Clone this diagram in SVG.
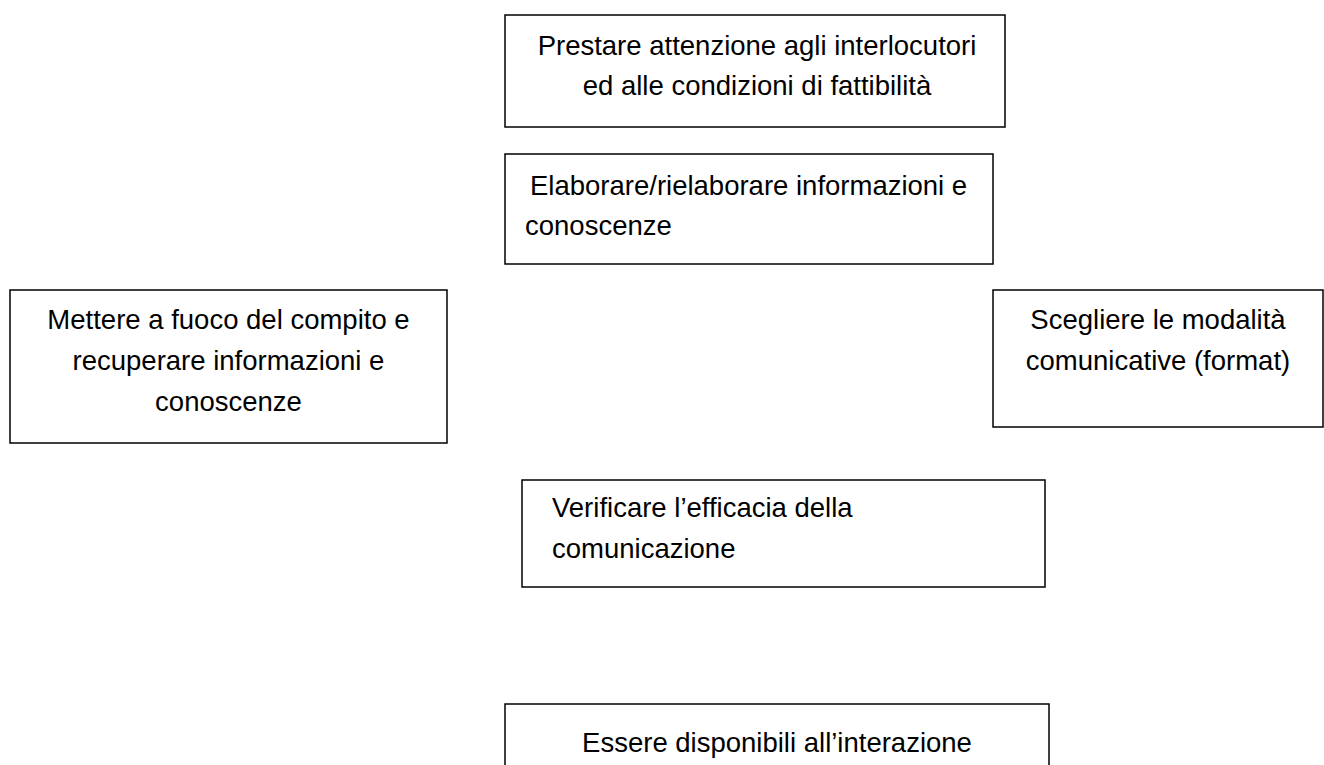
<svg xmlns="http://www.w3.org/2000/svg" width="1324" height="765" viewBox="0 0 1324 765">
<style>
.box{fill:#fff;stroke:#000;stroke-width:1.5}
.t{font-family:"Liberation Sans",Arial,sans-serif;font-size:27.5px;fill:#000}
.c{text-anchor:middle}
</style>
<rect width="1324" height="765" fill="#fff"/>
<g id="connectors"></g>
<g id="n1">
<rect class="box" x="505" y="15" width="500" height="112"/>
<text class="t c" x="757" y="55">Prestare attenzione agli interlocutori</text>
<text class="t c" x="757" y="95">ed alle condizioni di fattibilità</text>
</g>
<g id="n2">
<rect class="box" x="505" y="154" width="488" height="110"/>
<text class="t" x="530" y="195">Elaborare/rielaborare informazioni e</text>
<text class="t" x="525" y="235">conoscenze</text>
</g>
<g id="n3">
<rect class="box" x="10" y="290" width="437" height="153"/>
<text class="t c" x="228.5" y="329">Mettere a fuoco del compito e</text>
<text class="t c" x="228.5" y="370">recuperare informazioni e</text>
<text class="t c" x="228.5" y="411">conoscenze</text>
</g>
<g id="n4">
<rect class="box" x="993" y="290" width="330" height="137"/>
<text class="t c" x="1158" y="329">Scegliere le modalità</text>
<text class="t c" x="1158" y="370">comunicative (format)</text>
</g>
<g id="n5">
<rect class="box" x="522" y="480" width="523" height="107"/>
<text class="t" x="552" y="517">Verificare l’efficacia della</text>
<text class="t" x="552" y="558">comunicazione</text>
</g>
<g id="n6">
<rect class="box" x="505" y="704" width="544" height="80"/>
<text class="t c" x="777" y="752">Essere disponibili all’interazione</text>
</g>
</svg>
